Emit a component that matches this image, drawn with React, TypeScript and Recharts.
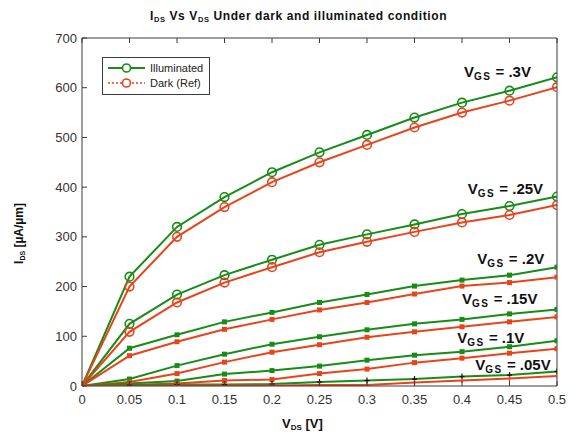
import React from 'react';
import { LineChart, Line, XAxis, YAxis, ReferenceDot, Legend } from 'recharts';

const FONT = '"Liberation Sans", Arial, sans-serif';
const GREEN = '#178c17';
const RED = '#e8441c';
const AXIS = '#3a3a3a';

// Data
const vds = [0, 0.05, 0.1, 0.15, 0.2, 0.25, 0.3, 0.35, 0.4, 0.45, 0.5];
const xTicks = [0, 0.05, 0.1, 0.15, 0.2, 0.25, 0.3, 0.35, 0.4, 0.45, 0.5];
const xTickLabels = ['0', '0.05', '0.1', '0.15', '0.2', '0.25', '0.3', '0.35', '0.4', '0.45', '0.5'];
const yTicks = [0, 100, 200, 300, 400, 500, 600, 700];

const illum30 = [0, 220, 320, 380, 430, 470, 505, 540, 570, 594, 621];
const dark30 = [0, 200, 300, 360, 410, 450, 485, 520, 550, 574, 601];
const illum25 = [0, 125, 184, 223, 254, 284, 305, 325, 346, 362, 381];
const dark25 = [0, 109, 168, 208, 239, 269, 290, 310, 329, 344, 364];
const illum20 = [0, 76, 103, 129, 148, 168, 184, 201, 213, 223, 239];
const dark20 = [0, 61, 89, 114, 134, 153, 168, 185, 201, 208, 219];
const illum15 = [0, 14, 41, 64, 84, 99, 113, 125, 134, 145, 154];
const dark15 = [0, 8, 25, 48, 68, 83, 98, 109, 119, 129, 139];
const illum10 = [0, 5, 10, 24, 31, 40, 52, 62, 69, 79, 91];
const dark10 = [0, 2, 5, 11, 13, 25, 34, 47, 56, 66, 75];
const illum05 = [0, 2, 3, 3, 4, 8, 11, 14, 19, 22, 29];
const dark05 = [0, 0, 1, 1, 1, 2, 2, 7, 11, 15, 20];

const annotations = [
  { x: 0.402, y: 622, text: '.3V' },
  { x: 0.406, y: 386, text: '.25V' },
  { x: 0.416, y: 245, text: '.2V' },
  { x: 0.400, y: 165, text: '.15V' },
  { x: 0.395, y: 87, text: '.1V' },
  { x: 0.414, y: 32, text: '.05V' },
];

const seriesDefs = [
  { key: 'i30', values: illum30, color: GREEN, marker: 'circle' },
  { key: 'd30', values: dark30, color: RED, marker: 'circle' },
  { key: 'i25', values: illum25, color: GREEN, marker: 'circle' },
  { key: 'd25', values: dark25, color: RED, marker: 'circle' },
  { key: 'i20', values: illum20, color: GREEN, marker: 'square' },
  { key: 'd20', values: dark20, color: RED, marker: 'square' },
  { key: 'i15', values: illum15, color: GREEN, marker: 'square' },
  { key: 'd15', values: dark15, color: RED, marker: 'square' },
  { key: 'i10', values: illum10, color: GREEN, marker: 'square' },
  { key: 'd10', values: dark10, color: RED, marker: 'square' },
  { key: 'i05', values: illum05, color: GREEN, marker: 'star' },
  { key: 'd05', values: dark05, color: RED, marker: 'tick' },
];

const data = vds.map((v, i) => {
  const row: any = { vds: v };
  seriesDefs.forEach((s) => { row[s.key] = s.values[i]; });
  return row;
});

const makeDot = (marker: string, color: string) => (props: any) => {
  const { cx, cy, index } = props;
  if (cx == null || cy == null) return <g key={index} />;
  if (marker === 'circle') {
    return <circle key={index} cx={cx} cy={cy} r={4.3} fill="none" stroke={color} strokeWidth={1.6} />;
  }
  if (marker === 'square') {
    return <rect key={index} x={cx - 2.5} y={cy - 2.5} width={5} height={5} fill={color} />;
  }
  if (marker === 'star') {
    return (
      <g key={index} stroke="#111" strokeWidth={1.2}>
        <line x1={cx - 2.5} x2={cx + 2.5} y1={cy} y2={cy} />
        <line x1={cx} x2={cx} y1={cy - 3} y2={cy + 2.5} />
      </g>
    );
  }
  return (
    <g key={index} stroke={color} strokeWidth={1.4}>
      <line x1={cx} x2={cx} y1={cy - 2.5} y2={cy + 2.5} />
    </g>
  );
};

const BottomTick = (props: any) => {
  const { x, y, index } = props;
  return (
    <g>
      <line x1={x} x2={x} y1={y} y2={y - 5} stroke={AXIS} strokeWidth={1} />
      <text x={x} y={y + 18} textAnchor="middle" fontSize={13} fontFamily={FONT} fill="#333">
        {xTickLabels[index]}
      </text>
    </g>
  );
};
const TopTick = (props: any) => {
  const { x, y } = props;
  return <line x1={x} x2={x} y1={y} y2={y + 5} stroke={AXIS} strokeWidth={1} />;
};
const LeftTick = (props: any) => {
  const { x, y, payload } = props;
  return (
    <g>
      <line x1={x} x2={x + 5} y1={y} y2={y} stroke={AXIS} strokeWidth={1} />
      <text x={x - 5} y={y + 4.6} textAnchor="end" fontSize={13} fontFamily={FONT} fill="#333">
        {payload.value}
      </text>
    </g>
  );
};
const RightTick = (props: any) => {
  const { x, y } = props;
  return <line x1={x} x2={x - 5} y1={y} y2={y} stroke={AXIS} strokeWidth={1} />;
};

const AnnShape = (text: string) => (props: any) => {
  const { cx, cy } = props;
  return (
    <text x={cx} y={cy} fontFamily={FONT} fontWeight="bold" fontSize={15} fill="#111">
      V
      <tspan fontSize={10} dy={3} letterSpacing={1.5}>GS</tspan>
      <tspan dy={-3}>{' = ' + text}</tspan>
    </text>
  );
};

const LegendBox = () => (
  <div style={{ width: 108, height: 38, border: `1px solid ${AXIS}`, background: '#fff', boxSizing: 'border-box', position: 'relative' }}>
    <svg width={106} height={36} style={{ position: 'absolute', left: 0, top: 0 }}>
      <line x1={5} x2={42} y1={10} y2={10} stroke={GREEN} strokeWidth={2} />
      <circle cx={23.5} cy={10} r={4} fill="#fff" stroke={GREEN} strokeWidth={1.6} />
      <text x={47} y={14} fontSize={11} fontFamily={FONT} fill="#222">Illuminated</text>
      <line x1={5} x2={42} y1={25} y2={25} stroke={RED} strokeWidth={1.6} strokeDasharray="2 2" />
      <circle cx={23.5} cy={25} r={4} fill="#fff" stroke={RED} strokeWidth={1.6} />
      <text x={47} y={29} fontSize={11} fontFamily={FONT} fill="#222">Dark (Ref)</text>
    </svg>
  </div>
);

export default function App() {
  return (
    <div style={{ position: 'absolute', left: 0, top: 0, width: 574, height: 435, background: '#fff' }}>
      <LineChart
        width={574}
        height={435}
        data={data}
        margin={{ top: 28, right: 7, bottom: 19, left: 42 }}
      >
        <XAxis
          dataKey="vds"
          type="number"
          domain={[0, 0.5]}
          ticks={xTicks}
          height={30}
          tickSize={0}
          tickMargin={0}
          tickLine={false}
          axisLine={{ stroke: AXIS }}
          tick={<BottomTick />}
          interval={0}
          allowDataOverflow
        />
        <XAxis
          xAxisId="top"
          orientation="top"
          dataKey="vds"
          type="number"
          domain={[0, 0.5]}
          ticks={xTicks}
          height={10}
          tickSize={0}
          tickMargin={0}
          tickLine={false}
          axisLine={{ stroke: AXIS }}
          tick={<TopTick />}
          interval={0}
        />
        <YAxis
          type="number"
          domain={[0, 700]}
          ticks={yTicks}
          width={40}
          tickSize={0}
          tickMargin={0}
          tickLine={false}
          axisLine={{ stroke: AXIS }}
          tick={<LeftTick />}
          interval={0}
          allowDataOverflow
        />
        <YAxis
          yAxisId="right"
          orientation="right"
          type="number"
          domain={[0, 700]}
          ticks={yTicks}
          width={10}
          tickSize={0}
          tickMargin={0}
          tickLine={false}
          axisLine={{ stroke: AXIS }}
          tick={<RightTick />}
          interval={0}
        />
        {seriesDefs.map((s) => (
          <Line
            key={s.key}
            dataKey={s.key}
            type="linear"
            stroke={s.color}
            strokeWidth={2}
            dot={makeDot(s.marker, s.color)}
            activeDot={false}
            isAnimationActive={false}
            legendType="none"
          />
        ))}
        {annotations.map((a) => (
          <ReferenceDot key={a.text} x={a.x} y={a.y} r={0} shape={AnnShape(a.text)} ifOverflow="visible" />
        ))}
        <Legend
          layout="vertical"
          align="center"
          verticalAlign="middle"
          content={<LegendBox />}
          wrapperStyle={{ left: 102, top: 57, width: 108, height: 38 }}
        />
      </LineChart>
      <svg width={574} height={435} style={{ position: 'absolute', left: 0, top: 0, pointerEvents: 'none' }}>
        <text x={150} y={20} fontFamily={FONT} fontWeight="bold" fontSize={12} letterSpacing={0.6} fill="#111">
          I<tspan fontSize={7.5} dy={2}>DS</tspan>
          <tspan dy={-2}>{' Vs  V'}</tspan>
          <tspan fontSize={7.5} dy={2}>DS</tspan>
          <tspan dy={-2}>{' Under dark and illuminated condition'}</tspan>
        </text>
        <text x={282} y={428} fontFamily={FONT} fontWeight="bold" fontSize={13} fill="#111">
          V<tspan fontSize={8} dy={2}>DS</tspan>
          <tspan dy={-2}>{' [V]'}</tspan>
        </text>
        <text x={0} y={0} transform="translate(23,233.5) rotate(-90)" textAnchor="middle" fontFamily={FONT} fontWeight="bold" fontSize={12} fill="#111">
          I<tspan fontSize={7} dy={2}>DS</tspan>
          <tspan dy={-2}>{' [µA/µm]'}</tspan>
        </text>
      </svg>
    </div>
  );
}
